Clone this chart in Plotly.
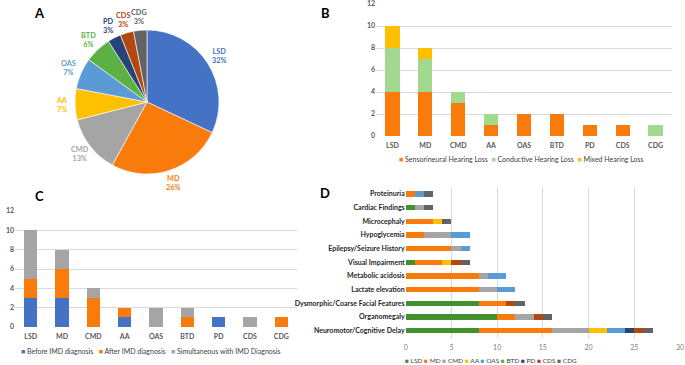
import math
import plotly.graph_objects as go

# ---------------- data ----------------
groups = ["LSD", "MD", "CMD", "AA", "OAS", "BTD", "PD", "CDS", "CDG"]
pie_share = [32, 26, 13, 7, 7, 6, 3, 3, 3]

hearing_names = ["Sensorineural Hearing Loss", "Conductive Hearing Loss", "Mixed Hearing Loss"]
sensorineural = [4, 4, 3, 1, 2, 2, 1, 1, 0]
conductive = [4, 3, 1, 1, 0, 0, 0, 0, 1]
mixed = [2, 1, 0, 0, 0, 0, 0, 0, 0]

timing_names = ["Before IMD diagnosis", "After IMD diagnosis", "Simultaneous with IMD Diagnosis"]
before_dx = [3, 3, 0, 1, 0, 0, 1, 0, 0]
after_dx = [2, 3, 3, 1, 0, 1, 0, 0, 1]
simultaneous_dx = [5, 2, 1, 0, 2, 1, 0, 1, 0]

findings = ["Neuromotor/Cognitive Delay", "Organomegaly", "Dysmorphic/Coarse Facial Features",
            "Lactate elevation", "Metabolic acidosis", "Visual Impairment",
            "Epilepsy/Seizure History", "Hypoglycemia", "Microcephaly",
            "Cardiac Findings", "Proteinuria"]
find_lsd = [8, 10, 8, 0, 0, 1, 0, 0, 0, 1, 0]
find_md = [8, 2, 3, 8, 8, 3, 5, 2, 3, 0, 1]
find_cmd = [4, 2, 0, 2, 1, 0, 1, 3, 0, 1, 0]
find_aa = [2, 0, 0, 0, 0, 1, 0, 0, 1, 0, 0]
find_oas = [2, 0, 0, 2, 2, 0, 1, 2, 0, 0, 1]
find_btd = [0, 0, 0, 0, 0, 0, 0, 0, 0, 0, 0]
find_pd = [1, 0, 0, 0, 0, 0, 0, 0, 0, 0, 0]
find_cds = [1, 1, 1, 0, 0, 1, 0, 0, 0, 0, 0]
find_cdg = [1, 1, 1, 0, 0, 1, 0, 0, 1, 1, 1]

# ---------------- styles ----------------
ORANGE = "#F97B0C"
pie_colors = ["#4472C4", ORANGE, "#A5A5A5", "#FFC000", "#5B9BD5", "#5DB043", "#264478", "#B0480F", "#636363"]
hearing_colors = [ORANGE, "#A3D98E", "#FFC000"]
timing_colors = ["#4472C4", ORANGE, "#A5A5A5"]
find_colors = ["#43902F", ORANGE, "#A5A5A5", "#FFC000", "#5B9BD5", "#5DB043", "#264478", "#B0480F", "#636363"]

FONT = "Lato"
TXT = "#404040"
TICK = "#595959"
GRID = "#D9D9D9"
W, H = 685, 365


def px_x(p):
    return p / W


def px_y(p):
    return 1 - p / H


fig = go.Figure()

# ---- A: pie ----
PIE_X = (75, 219)
PIE_Y = (30, 174)
fig.add_trace(go.Pie(
    labels=groups, values=pie_share, sort=False, direction="clockwise", rotation=0,
    marker=dict(colors=pie_colors, line=dict(color="white", width=0.6)),
    textposition="none",
    domain=dict(x=[px_x(PIE_X[0]), px_x(PIE_X[1])], y=[px_y(PIE_Y[1]), px_y(PIE_Y[0])]),
    showlegend=False,
))

# outside slice labels, placed radially from the pie's own geometry
cx, cy = (PIE_X[0] + PIE_X[1]) / 2, (PIE_Y[0] + PIE_Y[1]) / 2
radius = (PIE_X[1] - PIE_X[0]) / 2
label_dist = radius + 13
total = sum(pie_share)
pie_annotations = []
cum = 0
for lab, val, col in zip(groups, pie_share, pie_colors):
    theta = 2 * math.pi * (cum + val / 2) / total
    cum += val
    lx = cx + label_dist * math.sin(theta)
    ly = cy - label_dist * math.cos(theta)
    pie_annotations.append(dict(
        text=f"<b>{lab}</b><br><b>{round(100 * val / total)}%</b>",
        x=px_x(lx), y=px_y(ly), xref="paper", yref="paper", xanchor="center", yanchor="middle",
        showarrow=False, font=dict(size=7.3, color=col, family=FONT)))

# ---- B: hearing loss ----
for name, vals, col in zip(hearing_names, [sensorineural, conductive, mixed], hearing_colors):
    fig.add_trace(go.Bar(x=groups, y=vals, name=name, marker=dict(color=col, line=dict(width=0)),
                         width=0.43, xaxis="x", yaxis="y", showlegend=False))

# ---- C: timing ----
for name, vals, col in zip(timing_names, [before_dx, after_dx, simultaneous_dx], timing_colors):
    fig.add_trace(go.Bar(x=groups, y=vals, name=name, marker=dict(color=col, line=dict(width=0)),
                         width=0.42, xaxis="x2", yaxis="y2", showlegend=False))

# ---- D: findings ----
find_series = [find_lsd, find_md, find_cmd, find_aa, find_oas, find_btd, find_pd, find_cds, find_cdg]
for name, vals, col in zip(groups, find_series, find_colors):
    fig.add_trace(go.Bar(y=findings, x=vals, name=name, orientation="h",
                         marker=dict(color=col, line=dict(width=0)),
                         width=0.4, xaxis="x3", yaxis="y3", showlegend=False))


def legend_text(names, colors, gap):
    sep = "&nbsp;" * gap
    return sep.join(f"<span style='color:{c}'>■</span> {n}" for n, c in zip(names, colors))


tick = dict(size=7, color=TICK, family=FONT, weight="bold")
common_cat = dict(type="category", showgrid=False, zeroline=False, showline=False,
                  ticks="", automargin=False, fixedrange=True, ticklabeloverflow="allow")
common_val = dict(zeroline=False, showline=False, showgrid=True, gridcolor=GRID, gridwidth=1,
                  ticks="", automargin=False, fixedrange=True, ticklabeloverflow="allow")


def ann(text, x, y, size, color=TXT):
    return dict(text=text, x=px_x(x), y=px_y(y), xref="paper", yref="paper",
                xanchor="center", yanchor="middle", showarrow=False,
                font=dict(size=size, color=color, family=FONT))


fig.update_layout(
    width=W, height=H, autosize=False,
    margin=dict(l=0, r=0, t=0, b=0, autoexpand=False),
    paper_bgcolor="white", plot_bgcolor="white",
    barmode="stack", showlegend=False,
    font=dict(family=FONT, color=TXT),
    xaxis=dict(domain=[px_x(376), px_x(672)], anchor="y", categoryorder="array",
               categoryarray=groups, tickfont=tick, ticklabelstandoff=4, **common_cat),
    yaxis=dict(domain=[px_y(136), px_y(4)], anchor="x", range=[0, 12], dtick=2,
               tickfont=tick, **common_val),
    xaxis2=dict(domain=[px_x(15), px_x(297)], anchor="y2", categoryorder="array",
                categoryarray=groups, tickfont=tick, ticklabelstandoff=4, **common_cat),
    yaxis2=dict(domain=[px_y(327), px_y(211)], anchor="x2", range=[0, 12], dtick=2,
                tickfont=tick, **common_val),
    xaxis3=dict(domain=[px_x(405.7), px_x(680)], anchor="y3", range=[0, 30], dtick=5,
                tickfont=dict(size=7, color="#7F7F7F", family=FONT), ticklabelstandoff=4,
                **common_val),
    yaxis3=dict(domain=[px_y(337.5), px_y(187.2)], anchor="x3", categoryorder="array",
                categoryarray=findings, range=[-0.5, len(findings) - 0.5],
                tickfont=dict(size=7, color="#262626", family=FONT, weight="bold"), **common_cat),
    annotations=pie_annotations + [
        ann("<b>A</b>", 39, 13, 13, "black"),
        ann("<b>B</b>", 325, 13, 13, "black"),
        ann("<b>C</b>", 39, 196, 13, "black"),
        ann("<b>D</b>", 325, 193, 13, "black"),
        ann(legend_text(hearing_names, hearing_colors, 2), 521, 159, 7),
        ann(legend_text(timing_names, timing_colors, 3), 151, 351, 7),
        ann(legend_text(groups, find_colors, 1), 491, 360, 6.5),
    ],
)

fig.write_html("out.html")
